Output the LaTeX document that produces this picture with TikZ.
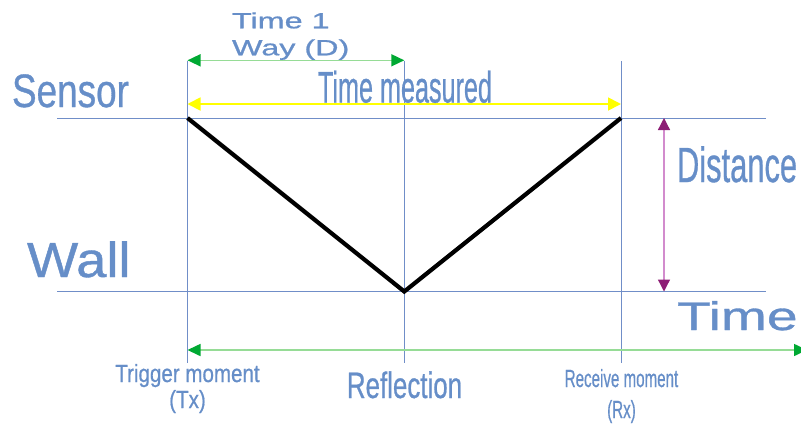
\documentclass[tikz,border=0pt]{standalone}
\usepackage{fontspec}
\setmainfont{Liberation Sans}[FakeBold=0.8]
\usetikzlibrary{arrows.meta}
\definecolor{txtblue}{RGB}{102,142,200}
\definecolor{lineblue}{RGB}{112,142,200}
\definecolor{grhead}{RGB}{0,169,51}
\definecolor{grline}{RGB}{150,220,150}
\definecolor{puhead}{RGB}{141,29,117}
\definecolor{puline}{RGB}{210,140,205}
\definecolor{yel}{RGB}{255,255,0}
\newcommand{\fs}[2]{\fontsize{#1}{#2}\selectfont}
\tikzset{
  lbl/.style={inner sep=0pt, outer sep=0pt, text=txtblue},
  guide/.style={draw=lineblue, line width=0.8pt},
  grarrow/.style={draw=grline, line width=1.6pt, {Triangle[length=13pt,width=12pt,color=grhead]}-{Triangle[length=13pt,width=12pt,color=grhead]}},
  yelarrow/.style={draw=yel, line width=1.8pt, {Triangle[length=13pt,width=13pt]}-{Triangle[length=13pt,width=13pt]}},
  puarrow/.style={draw=puline, line width=1.3pt, {Triangle[length=12pt,width=12pt,color=puhead]}-{Triangle[length=12pt,width=12pt,color=puhead]}},
  vpath/.style={draw=black, line width=4.2pt, line join=miter}
}
\begin{document}
\begin{tikzpicture}[x=1pt,y=-1pt]
\useasboundingbox (0,0) rectangle (801,424);
% coordinates
\coordinate (sl) at (57,118);
\coordinate (sr) at (766,118);
\coordinate (wl) at (57,291.5);
\coordinate (wr) at (766,291.5);
\coordinate (t1) at (187.5,61);
\coordinate (b1) at (187.5,363);
\coordinate (t2) at (404.3,61);
\coordinate (b2) at (404.3,363);
\coordinate (t3) at (621,61);
\coordinate (b3) at (621,363);
\coordinate (tx) at (187.5,118);
\coordinate (refl) at (404.3,291.5);
\coordinate (rx) at (621,118);
\coordinate (ga) at (187.5,60.3);
\coordinate (gb) at (404.3,60.3);
\coordinate (ya) at (187.5,104);
\coordinate (yb) at (621,104);
\coordinate (pa) at (664,118);
\coordinate (pb) at (664,291.5);
\coordinate (ta) at (187.5,350);
\coordinate (tb) at (807,350);
% guide lines
\draw[guide] (sl) -- (sr);
\draw[guide] (wl) -- (wr);
\draw[guide] (t1) -- (b1);
\draw[guide] (t2) -- (b2);
\draw[guide] (t3) -- (b3);
% arrows
\draw[grarrow] (ga) -- (gb);
\draw[yelarrow] (ya) -- (yb);
\draw[puarrow] (pa) -- (pb);
\draw[grarrow] (ta) -- (tb);
% V path
\draw[vpath] (tx) -- (refl) -- (rx);
% labels
\node[lbl, anchor=base west] (time1) at (232,28.3)
  {\fs{22}{27}\scalebox{1.47}[1]{\begin{tabular}[t]{@{}l@{}}Time 1\\Way (D)\end{tabular}}};
\node[lbl, anchor=base west] (sensor) at (12,107)
  {\fs{46.9}{50}\scalebox{0.787}[1]{Sensor}};
\node[lbl, anchor=base] (tmeas) at (405,102.5)
  {\fs{44.1}{48}\scalebox{0.571}[1]{Time measured}};
\node[lbl, anchor=base west] (dist) at (677,182)
  {\fs{49.4}{52}\scalebox{0.625}[1]{Distance}};
\node[lbl, anchor=base west] (wall) at (27,277)
  {\fs{49.4}{52}\scalebox{1.099}[1]{Wall}};
\node[lbl, anchor=base west] (timel) at (677,330)
  {\fs{39.9}{44}\scalebox{1.383}[1]{Time}};
\node[lbl, anchor=base] (trig) at (187.5,382)
  {\fs{24.8}{26}\scalebox{0.829}[1]{\begin{tabular}[t]{@{}c@{}}Trigger moment\\(Tx)\end{tabular}}};
\node[lbl, anchor=base] (reflt) at (404.5,398)
  {\fs{36.75}{40}\scalebox{0.705}[1]{Reflection}};
\node[lbl, anchor=base] (recv) at (621.5,387)
  {\fs{24.8}{31}\scalebox{0.61}[1]{\begin{tabular}[t]{@{}c@{}}Receive moment\\(Rx)\end{tabular}}};
\end{tikzpicture}
\end{document}
